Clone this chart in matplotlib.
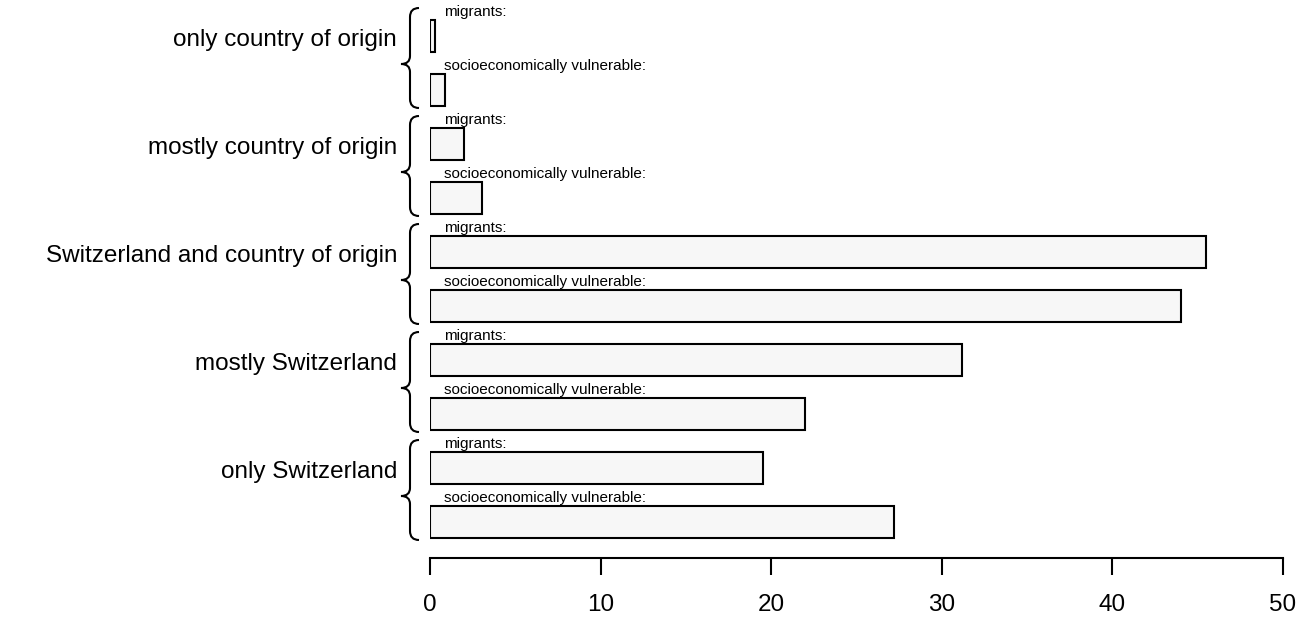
import matplotlib.pyplot as plt
from matplotlib.path import Path
from matplotlib.patches import PathPatch

plt.rcParams["font.family"] = "Liberation Sans"

categories = ["only country of origin", "mostly country of origin",
              "Switzerland and country of origin", "mostly Switzerland",
              "only Switzerland"]
migrants = [0.3, 2.0, 45.5, 31.2, 19.5]
vulnerable = [0.9, 3.05, 44.0, 22.0, 27.2]
sub_labels = ["migrants:", "socioeconomically vulnerable:"]
ticks = [0, 10, 20, 30, 40, 50]

W, H = 1301, 620
fig = plt.figure(figsize=(W / 100, H / 100), dpi=100)
x0, x1, ybot = 430, 1283, 558
ax = fig.add_axes([x0 / W, 1 - ybot / H, (x1 - x0) / W, ybot / H])
ax.set_xlim(0, 50)
ax.set_ylim(ybot, 0)
ppu = (x1 - x0) / 50.0


def px2x(px):
    return (px - x0) / ppu


bar_h = 32
for i, cat in enumerate(categories):
    top = 20 + i * 108
    for j, val in enumerate([migrants[i], vulnerable[i]]):
        yt = top + j * 54
        ax.barh(yt + bar_h / 2, val, height=bar_h, left=0,
                color="#f7f7f7", edgecolor="black", linewidth=1.5)
        ax.text(px2x(444), yt - 1, sub_labels[j], fontsize=11,
                ha="left", va="bottom")
    b0, b1 = top - 12, top + 54 + bar_h + 2
    mid = (b0 + b1) / 2 + 6
    xe, xs, xt = px2x(419), px2x(410), px2x(401)
    verts = [(xe, b0), (xs, b0), (xs, b0 + 9),
             (xs, mid - 8),
             (xs, mid), (xt, mid),
             (xs, mid), (xs, mid + 8),
             (xs, b1 - 9),
             (xs, b1), (xe, b1)]
    codes = [Path.MOVETO, Path.CURVE3, Path.CURVE3,
             Path.LINETO,
             Path.CURVE3, Path.CURVE3,
             Path.CURVE3, Path.CURVE3,
             Path.LINETO,
             Path.CURVE3, Path.CURVE3]
    ax.add_patch(PathPatch(Path(verts, codes), fill=False, lw=1.5,
                           clip_on=False))
    ax.text(px2x(397), top + 20, cat, fontsize=17.5, ha="right", va="center")

for s in ["top", "right", "left"]:
    ax.spines[s].set_visible(False)
ax.spines["bottom"].set_bounds(0, 50)
ax.spines["bottom"].set_linewidth(1.5)
ax.set_yticks([])
ax.set_xticks(ticks)
ax.tick_params(axis="x", length=12, width=1.5, labelsize=17.5, pad=14)

fig.savefig("out.png", dpi=100)
